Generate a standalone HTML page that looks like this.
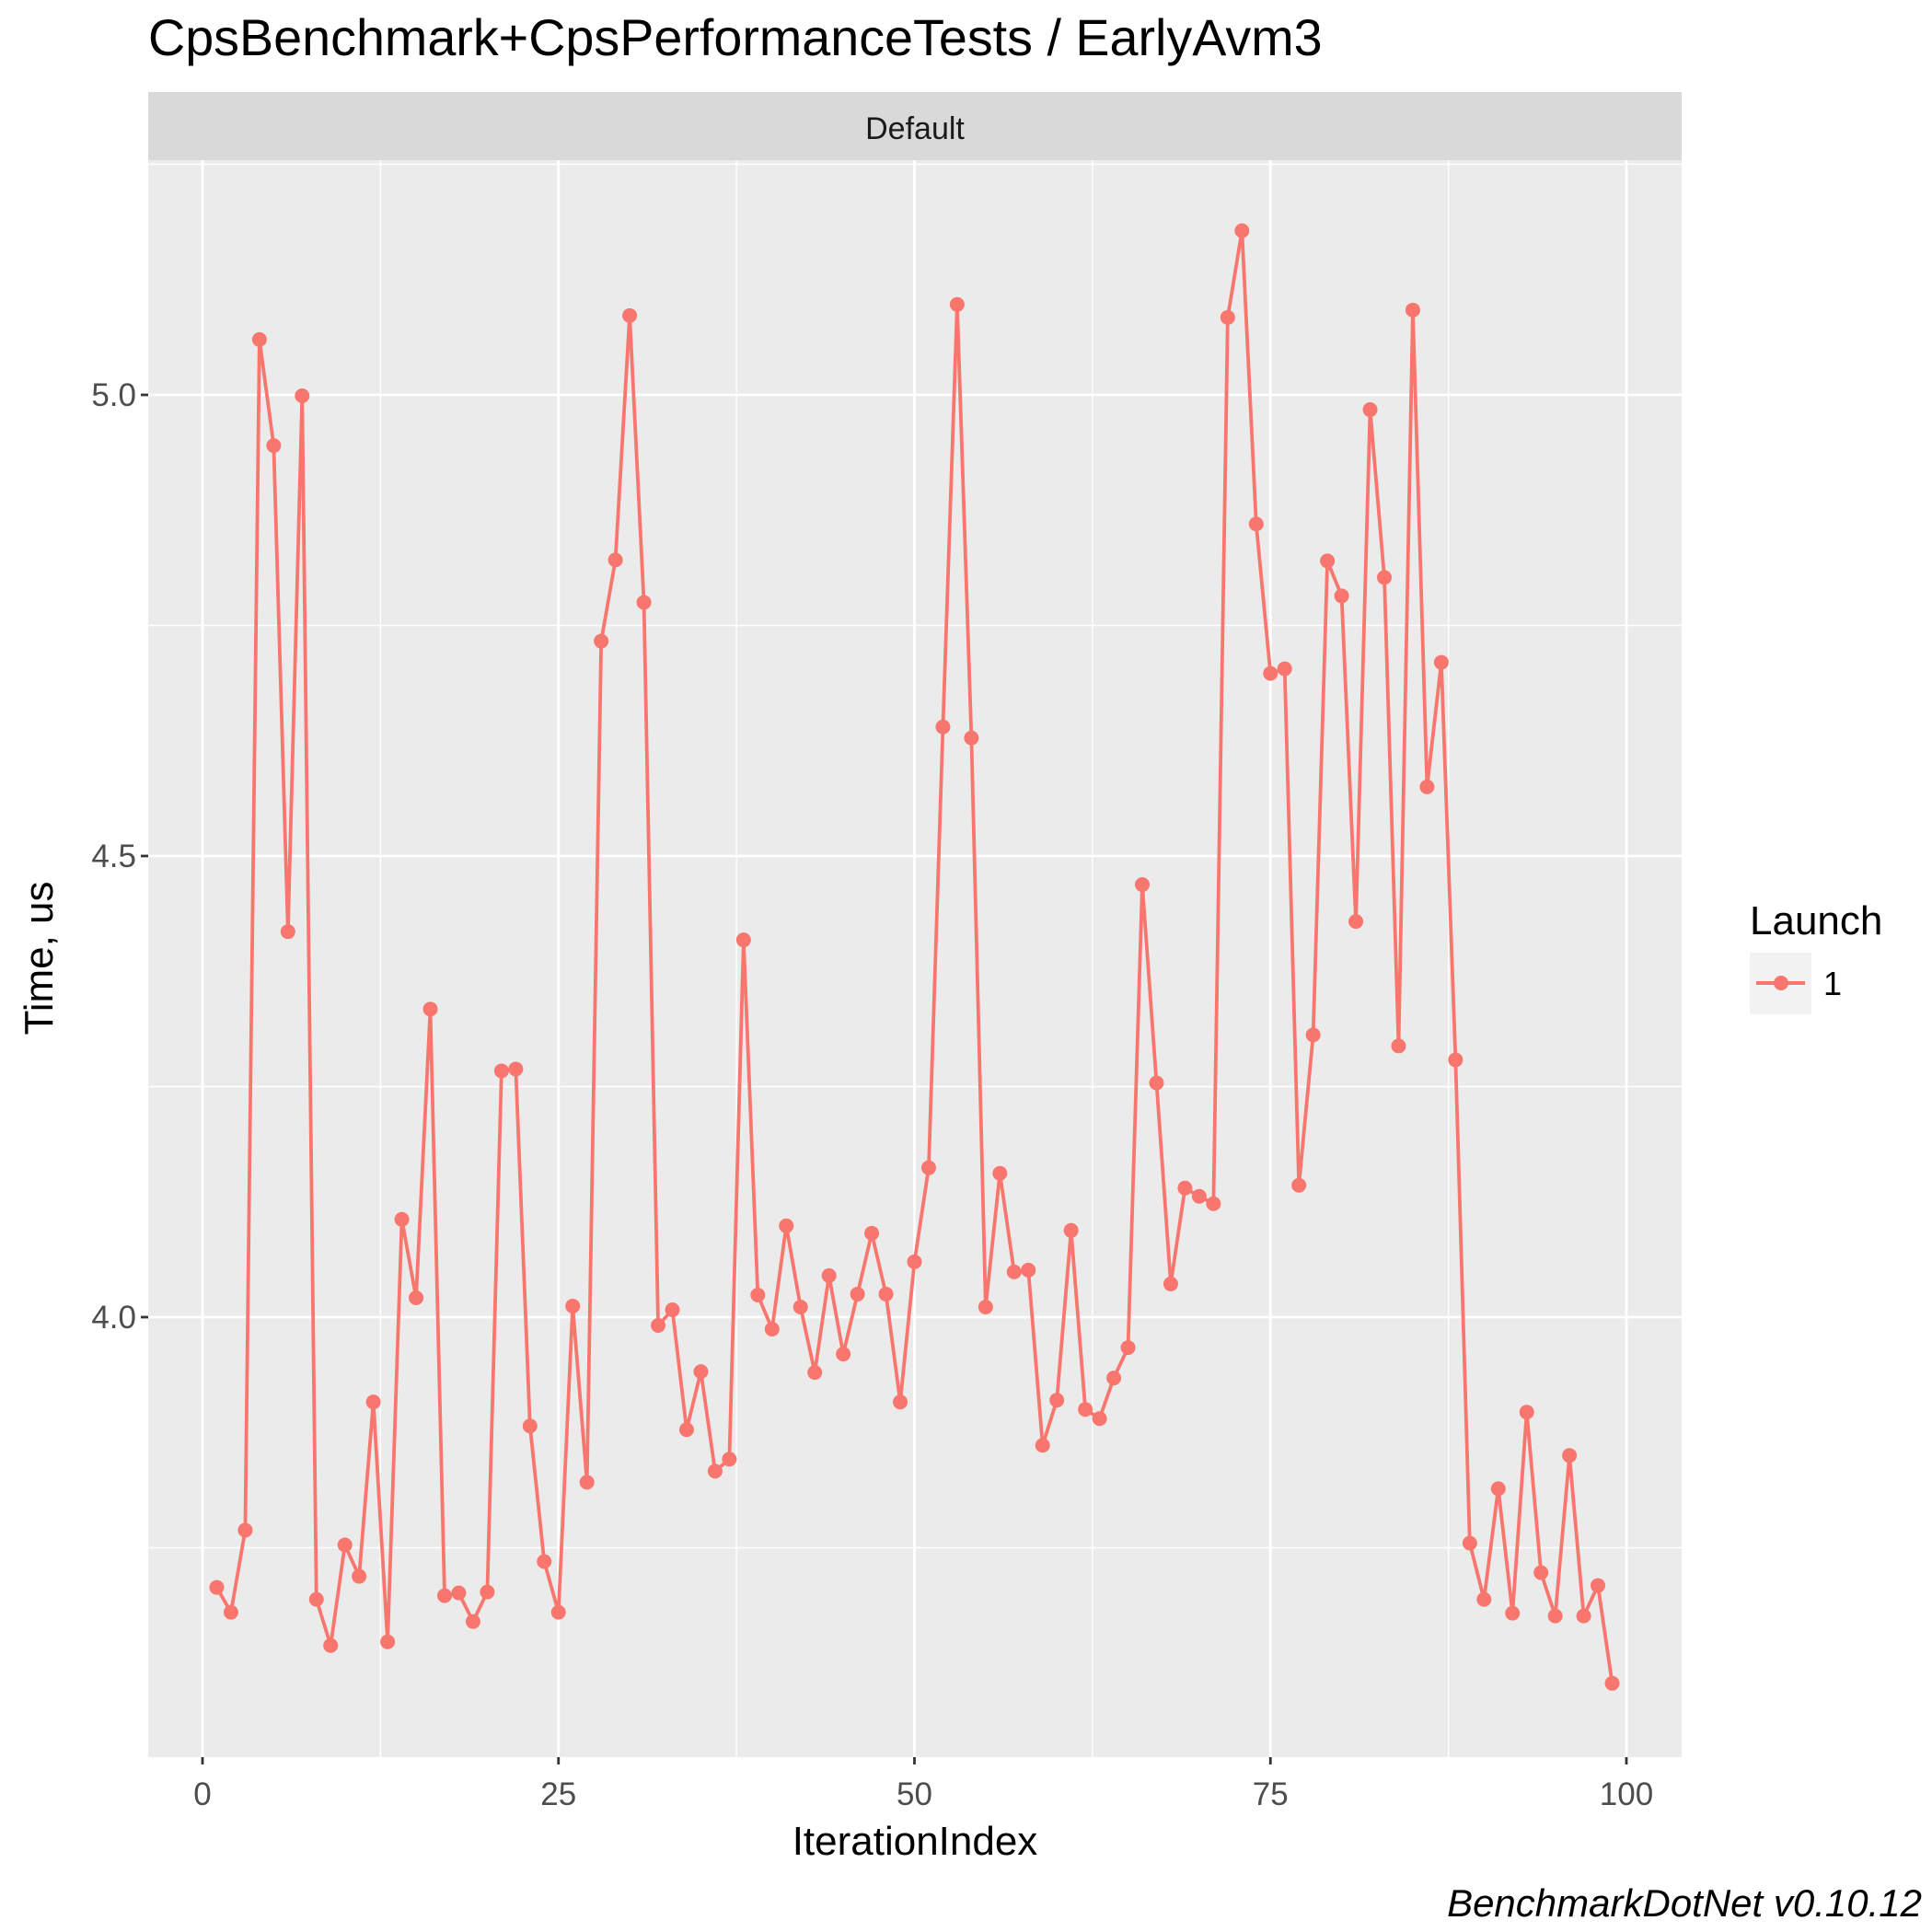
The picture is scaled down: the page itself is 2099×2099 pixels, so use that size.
<!DOCTYPE html>
<html><head><meta charset="utf-8"><style>
html,body{margin:0;padding:0;background:#fff;}
svg{display:block;font-family:"Liberation Sans",sans-serif;}
</style></head><body>
<svg id="chart" width="2099" height="2099" viewBox="0 0 2099 2099" xmlns="http://www.w3.org/2000/svg">
<rect width="2099" height="2099" fill="#fff"/>
<text x="161" y="60" font-size="55.7" fill="#000">CpsBenchmark+CpsPerformanceTests / EarlyAvm3</text>
<rect x="161" y="100" width="1666" height="74" fill="#d9d9d9"/>
<text x="994" y="151" font-size="34" text-anchor="middle" fill="#1a1a1a">Default</text>
<rect x="161" y="174" width="1666" height="1735" fill="#ebebeb"/>
<g id="grid"></g>
<g id="series"></g>
<g id="axes"></g>
<text x="994" y="2015" font-size="44" text-anchor="middle" fill="#000">IterationIndex</text>
<text x="57" y="1041" font-size="44" text-anchor="middle" fill="#000" transform="rotate(-90 57 1041)">Time, us</text>
<g>
<text x="1901" y="1015" font-size="44" fill="#000">Launch</text>
<rect x="1901" y="1035" width="67" height="67" fill="#f2f2f2"/>
<line x1="1908" y1="1068" x2="1961" y2="1068" stroke="#F8766D" stroke-width="4"/>
<circle cx="1935" cy="1068" r="8" fill="#F8766D"/>
<text x="1981" y="1081" font-size="36" fill="#000">1</text>
</g>
<text x="2088" y="2082" font-size="42" font-style="italic" text-anchor="end" fill="#000">BenchmarkDotNet v0.10.12</text>
</svg>
<script>
const iterations = [];
for (let i = 1; i <= 99; i++) iterations.push(i);
const times = [3.707,3.680,3.769,5.060,4.945,4.418,4.999,3.694,3.644,3.753,
3.719,3.908,3.648,4.106,4.021,4.334,3.698,3.701,3.670,3.702,
4.267,4.269,3.882,3.735,3.680,4.012,3.821,4.733,4.821,5.086,
4.775,3.991,4.008,3.878,3.941,3.833,3.846,4.409,4.024,3.987,
4.099,4.011,3.940,4.045,3.960,4.025,4.091,4.025,3.908,4.060,
4.162,4.640,5.098,4.628,4.011,4.156,4.049,4.051,3.861,3.910,
4.094,3.900,3.890,3.934,3.967,4.469,4.254,4.036,4.140,4.131,
4.123,5.084,5.178,4.860,4.698,4.703,4.143,4.306,4.820,4.782,
4.429,4.984,4.802,4.294,5.092,4.575,4.710,4.279,3.755,3.694,
3.814,3.679,3.897,3.723,3.676,3.850,3.676,3.709,3.603];
const xTicks = [0,25,50,75,100];
const xTickLabels = ["0","25","50","75","100"];
const yTicks = [4.0,4.5,5.0];
const yTickLabels = ["4.0","4.5","5.0"];
const xMinor = [12.5,37.5,62.5,87.5];
const yMinor = [3.75,4.25,4.75,5.25];

const NS = "http://www.w3.org/2000/svg";
const X = v => 220 + v * 15.47;
const Y = v => 1431 - (v - 4) * 1002;
const PL = 161, PR = 1827, PT = 174, PB = 1909;
function mk(tag, attrs, parent){const e=document.createElementNS(NS,tag);for(const k in attrs)e.setAttribute(k,attrs[k]);parent.appendChild(e);return e;}
const grid = document.getElementById('grid');
xMinor.forEach(v=>{const l=mk('line',{x1:X(v),x2:X(v),y1:PT,y2:PB,stroke:'#fff','stroke-width':1.4},grid);

});
yMinor.forEach(v=>{const l=mk('line',{x1:PL,x2:PR,y1:Y(v),y2:Y(v),stroke:'#fff','stroke-width':1.4},grid);

});
xTicks.forEach(v=>{const l=mk('line',{x1:X(v),x2:X(v),y1:PT,y2:PB,stroke:'#fff','stroke-width':2.8},grid);

});
yTicks.forEach(v=>{const l=mk('line',{x1:PL,x2:PR,y1:Y(v),y2:Y(v),stroke:'#fff','stroke-width':2.8},grid);

});
const axes = document.getElementById('axes');
xTicks.forEach((v,i)=>{const t=mk('line',{x1:X(v),x2:X(v),y1:PB,y2:PB+8,stroke:'#333','stroke-width':2.8},axes);


const tx=mk('text',{x:X(v),y:PB+52,'font-size':35,'text-anchor':'middle',fill:'#4d4d4d'},axes);


tx.textContent=xTickLabels[i];});
yTicks.forEach((v,i)=>{const t=mk('line',{x1:PL-8,x2:PL,y1:Y(v),y2:Y(v),stroke:'#333','stroke-width':2.8},axes);


const tx=mk('text',{x:PL-13,y:Y(v)+12,'font-size':35,'text-anchor':'end',fill:'#4d4d4d'},axes);


tx.textContent=yTickLabels[i];});
const series = document.getElementById('series');
const pts = iterations.map((it,i)=>X(it)+','+Y(times[i])).join(' ');
const pl = mk('polyline',{points:pts,fill:'none',stroke:'#F8766D','stroke-width':3.8,'stroke-linejoin':'round'},series);


iterations.forEach((it,i)=>{const c=mk('circle',{cx:X(it),cy:Y(times[i]),r:8,fill:'#F8766D'},series);

});
</script>
</body></html>
